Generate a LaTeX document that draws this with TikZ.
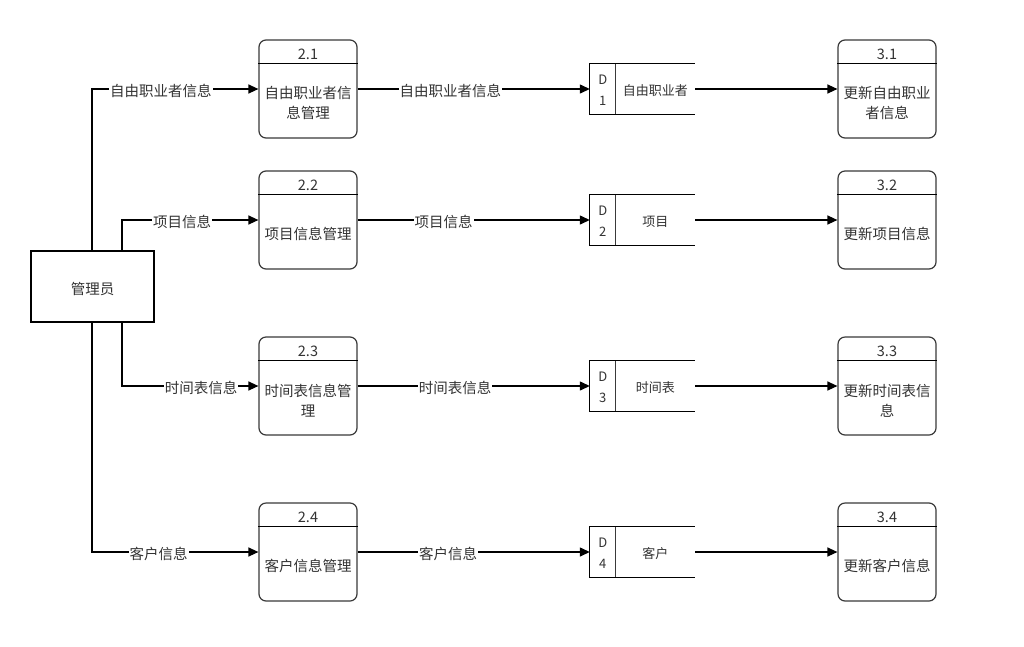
\documentclass[tikz,border=0pt]{standalone}
\usepackage{fontspec}
\setmainfont{Noto Sans CJK SC}
\usetikzlibrary{arrows.meta,calc}
\definecolor{txt}{HTML}{333333}
\definecolor{bord}{HTML}{3A3A3A}
\tikzset{
  procbox/.style={draw=bord,line width=1.2pt,rounded corners=7pt,minimum width=98pt,minimum height=98pt,inner sep=0pt},
  hdrline/.style={draw=black,line width=1.1pt},
  hdrtext/.style={text=txt,font=\fontsize{14.5}{20}\selectfont,inner sep=0pt},
  bodytext/.style={text=txt,font=\fontsize{14.5}{20}\selectfont,align=center,inner sep=0pt},
  mgrbox/.style={draw=black,line width=1.2pt,minimum width=123pt,minimum height=71pt,inner sep=0pt},
  mgrtext/.style={text=txt,font=\fontsize{14.5}{20}\selectfont,inner sep=0pt},
  dsbox/.style={minimum width=105pt,minimum height=50pt,inner sep=0pt},
  dsline/.style={draw=black,line width=1.2pt},
  dsdiv/.style={draw=bord,line width=1.2pt},
  dstext/.style={text=txt,font=\fontsize{13}{16}\selectfont,inner sep=0pt},
  flow/.style={draw=black,line width=1.3pt,-{Triangle[length=10pt,width=9pt]}},
  flowlabel/.style={fill=white,text=txt,font=\fontsize{14.5}{20}\selectfont,inner sep=1pt,yshift=-1.5pt},
}
\newcommand\procnode[5]{%
  \node[procbox] (#1) at (#2,#3) {};
  \draw[hdrline] ([yshift=-24pt]#1.north west) -- ([yshift=-24pt]#1.north east);
  \node[hdrtext] (#1h) at ([yshift=-14.5pt]#1.north) {#4};
  \node[bodytext] (#1b) at ([yshift=-64pt]#1.north) {#5};
}
\newcommand\dsnode[5]{%
  \node[dsbox] (#1) at (#2,#3) {};
  \draw[dsline] ([xshift=105pt]#1.north west) -- (#1.north west) -- (#1.south west) -- ([xshift=105pt]#1.south west);
  \draw[dsdiv] ([xshift=26pt]#1.north west) -- ([xshift=26pt]#1.south west);
  \node[dstext] (#1d) at ([xshift=13pt,yshift=-16pt]#1.north west) {D};
  \node[dstext] (#1n) at ([xshift=13pt,yshift=13pt]#1.south west) {#4};
  \node[dstext] (#1t) at ([xshift=65.5pt,yshift=-2pt]#1.west) {#5};
}
\begin{document}
\begin{tikzpicture}[x=1pt,y=-1pt]
\useasboundingbox[fill=white] (0,0) rectangle (1024,646);

\node[mgrbox] (mgr) at (92.5,286.5) {};
\node[mgrtext] (mgrt) at ([yshift=-2pt]mgr.center) {管理员};
\coordinate (mt1) at (92,251);
\coordinate (mt2) at (122,251);
\coordinate (mb1) at (92,322);
\coordinate (mb2) at (122,322);

\procnode{p21}{308}{89}{2.1}{自由职业者信\\息管理}
\procnode{p22}{308}{220}{2.2}{项目信息管理}
\procnode{p23}{308}{386}{2.3}{时间表信息管\\理}
\procnode{p24}{308}{552}{2.4}{客户信息管理}

\procnode{p31}{887}{89}{3.1}{更新自由职业\\者信息}
\procnode{p32}{887}{220}{3.2}{更新项目信息}
\procnode{p33}{887}{386}{3.3}{更新时间表信\\息}
\procnode{p34}{887}{552}{3.4}{更新客户信息}

\dsnode{d1}{642.5}{89}{1}{自由职业者}
\dsnode{d2}{642.5}{220}{2}{项目}
\dsnode{d3}{642.5}{386}{3}{时间表}
\dsnode{d4}{642.5}{552}{4}{客户}

\draw[flow] (mt1) |- node[flowlabel,pos=0.707] (l1) {自由职业者信息} (p21.west);
\draw[flow] (mt2) |- node[flowlabel,pos=0.72] (l2) {项目信息} (p22.west);
\draw[flow] (mb2) |- node[flowlabel,pos=0.79] (l3) {时间表信息} (p23.west);
\draw[flow] (mb1) |- node[flowlabel,pos=0.70] (l4) {客户信息} (p24.west);

\draw[flow] (p21.east) -- node[flowlabel,pos=0.40] (m1) {自由职业者信息} (d1.west);
\draw[flow] (p22.east) -- node[flowlabel,pos=0.37] (m2) {项目信息} (d2.west);
\draw[flow] (p23.east) -- node[flowlabel,pos=0.42] (m3) {时间表信息} (d3.west);
\draw[flow] (p24.east) -- node[flowlabel,pos=0.39] (m4) {客户信息} (d4.west);

\draw[flow] (d1.east) -- (p31.west);
\draw[flow] (d2.east) -- (p32.west);
\draw[flow] (d3.east) -- (p33.west);
\draw[flow] (d4.east) -- (p34.west);
\end{tikzpicture}
\end{document}
